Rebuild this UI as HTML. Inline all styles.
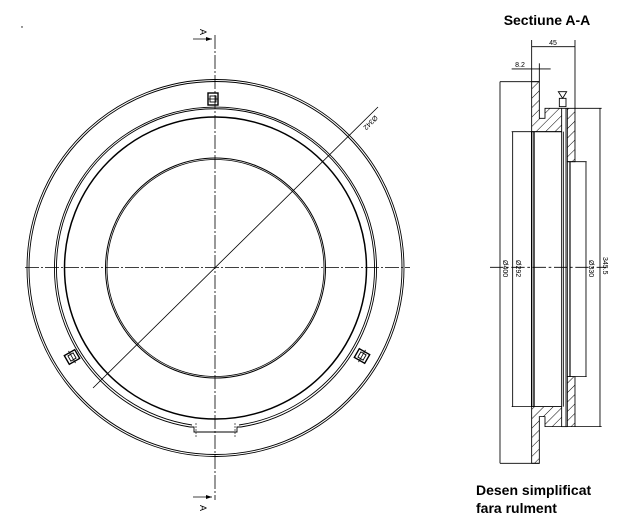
<!DOCTYPE html>
<html><head><style>
html,body{margin:0;padding:0;background:#fff;}
svg{display:block;}
text{font-family:"Liberation Sans",sans-serif;}
</style></head><body>
<svg width="626" height="527" viewBox="0 0 626 527" xmlns="http://www.w3.org/2000/svg">
<defs>
<pattern id="h" width="20" height="20" patternUnits="userSpaceOnUse" patternTransform="rotate(45)">
<line x1="0" y1="0" x2="0" y2="20" stroke="#000" stroke-width="3"/>
</pattern>
</defs>
<rect width="626" height="527" fill="#fff"/>
<!-- Left view -->
<g fill="none" stroke="#000">
<circle cx="215.5" cy="268" r="188.5" stroke-width="0.9"/>
<circle cx="215.5" cy="268" r="186.5" stroke-width="0.9"/>
<path d="M190,427 A161,161 0 1 1 241,427" stroke-width="0.9"/>
<path d="M192,425 A159,159 0 1 1 239,425" stroke-width="0.9"/>
<path d="M190,427 L194,427 L194,432 L237,432 L237,427 L241,427" stroke-width="0.9"/>
<circle cx="215.5" cy="268" r="151" stroke-width="1.5"/>
<circle cx="215.5" cy="268" r="110" stroke-width="1"/>
<circle cx="215.5" cy="268" r="108.5" stroke-width="0.8"/>
<line x1="215" y1="35" x2="215" y2="500" stroke-width="0.8" stroke-dasharray="14,2,2,2"/>
<line x1="25" y1="267.5" x2="410" y2="267.5" stroke-width="0.8" stroke-dasharray="14,2,2,2"/>
<line x1="93" y1="388" x2="378" y2="107" stroke-width="0.8"/>
<line x1="193" y1="39" x2="212" y2="39" stroke-width="0.8"/>
<line x1="193" y1="497" x2="212" y2="497" stroke-width="0.8"/>
<!-- bolts -->
<rect x="208" y="93" width="10" height="12" stroke-width="1.4"/>
<rect x="210" y="96" width="6" height="6" stroke-width="0.9"/>
<line x1="208" y1="99" x2="218" y2="99" stroke-width="0.8"/>
<g transform="translate(72,357) rotate(60)"><rect x="-5" y="-6" width="10" height="12" stroke-width="1.4"/><rect x="-3" y="-3" width="6" height="6" stroke-width="0.9"/><line x1="-7" y1="0" x2="7" y2="0" stroke-width="0.8"/></g>
<g transform="translate(362,356) rotate(-60)"><rect x="-5" y="-6" width="10" height="12" stroke-width="1.4"/><rect x="-3" y="-3" width="6" height="6" stroke-width="0.9"/><line x1="-7" y1="0" x2="7" y2="0" stroke-width="0.8"/></g>
<line x1="196" y1="423" x2="196" y2="438" stroke-width="0.6" stroke-dasharray="2,1"/>
<line x1="235" y1="423" x2="235" y2="438" stroke-width="0.6" stroke-dasharray="2,1"/>
</g>
<polygon points="212,39 206,37 206,41" fill="#000"/>
<polygon points="212,497 206,495 206,499" fill="#000"/>
<text x="0" y="0" font-size="9" transform="translate(200,29) rotate(90)">A</text>
<text x="0" y="0" font-size="9" transform="translate(200,505) rotate(90)">A</text>
<text x="0" y="0" font-size="7" transform="translate(375,115) rotate(135)">Ø342</text>
<circle cx="22" cy="27" r="0.7" fill="#000"/>

<!-- Right view -->
<text x="547" y="25" font-size="14" font-weight="bold" text-anchor="middle">Sectiune A-A</text>
<text x="476" y="495" font-size="14" font-weight="bold">Desen simplificat</text>
<text x="476" y="513" font-size="14" font-weight="bold">fara rulment</text>
<g transform="translate(460,0) scale(0.3333)" fill="none" stroke="#000" stroke-width="2.6">
<polygon points="215,245 238,245 238,355 255,355 255,325 305,325 305,395 215,395" fill="url(#h)"/>
<polygon points="215,1390 238,1390 238,1250 255,1250 255,1280 305,1280 305,1220 215,1220" fill="url(#h)"/>
<polygon points="322,325 345,325 345,485 322,485" fill="url(#h)"/>
<polygon points="322,1280 345,1280 345,1130 322,1130" fill="url(#h)"/>
<line x1="215" y1="395" x2="215" y2="1220" stroke-width="4"/>
<line x1="222" y1="395" x2="222" y2="1220" stroke-width="4"/>
<line x1="305" y1="395" x2="305" y2="1220"/>
<line x1="310" y1="395" x2="310" y2="1220"/>
<line x1="318" y1="325" x2="318" y2="1280"/>
<line x1="322" y1="485" x2="322" y2="1130"/>
<line x1="330" y1="485" x2="330" y2="1130" stroke-width="3.5"/>
<line x1="305" y1="325" x2="322" y2="325"/>
<line x1="305" y1="1280" x2="322" y2="1280"/>
<!-- bearing cap -->
<path d="M295,275 L320,275 L308,295 Z"/>
<rect x="298" y="295" width="20" height="25"/>
<!-- dims -->
<line x1="215" y1="120" x2="215" y2="245"/>
<line x1="345" y1="120" x2="345" y2="325"/>
<line x1="215" y1="140" x2="345" y2="140"/>
<line x1="238" y1="190" x2="238" y2="245"/>
<line x1="155" y1="207" x2="272" y2="207"/>
<line x1="120" y1="245" x2="238" y2="245"/>
<line x1="120" y1="1390" x2="238" y2="1390"/>
<line x1="120" y1="245" x2="120" y2="1390"/>
<line x1="155" y1="395" x2="305" y2="395"/>
<line x1="155" y1="1220" x2="305" y2="1220"/>
<line x1="158" y1="395" x2="158" y2="1220"/>
<line x1="322" y1="485" x2="380" y2="485"/>
<line x1="322" y1="1130" x2="380" y2="1130"/>
<line x1="378" y1="485" x2="378" y2="1130"/>
<line x1="345" y1="325" x2="425" y2="325"/>
<line x1="345" y1="1280" x2="425" y2="1280"/>
<line x1="420" y1="325" x2="420" y2="1280"/>
<line x1="90" y1="802" x2="440" y2="802" stroke-dasharray="40,8,8,8"/>
</g>
<text x="553" y="45" font-size="7" text-anchor="middle">45</text>
<text x="520" y="67" font-size="7" text-anchor="middle">8.2</text>
<text font-size="7" transform="translate(503,260) rotate(90)">Ø400</text>
<text font-size="7" transform="translate(516,260) rotate(90)">Ø292</text>
<text font-size="7" transform="translate(589,260) rotate(90)">Ø330</text>
<text font-size="7" transform="translate(603,257) rotate(90)">345.5</text>
</svg>
</body></html>
